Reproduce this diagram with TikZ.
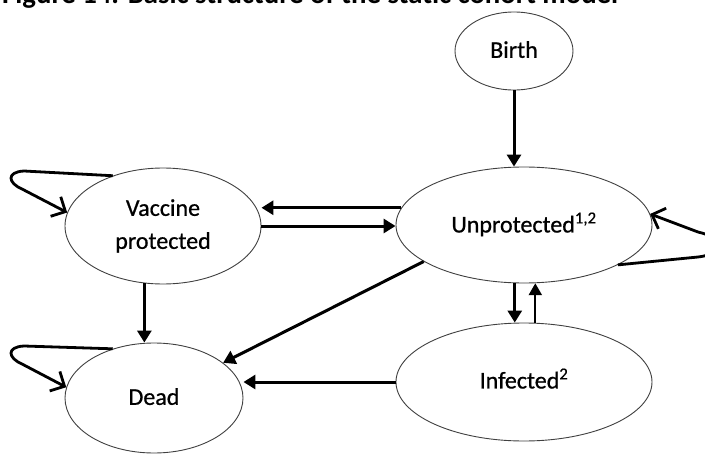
\documentclass[tikz,border=0pt]{standalone}
\usepackage{graphicx}
\usepackage{fontspec}
\setmainfont{Carlito}
\newfontfamily\heavyfont[FakeBold=0.7]{Carlito}
\usetikzlibrary{arrows.meta,shapes.geometric,calc}
\begin{document}
\begin{tikzpicture}[x=1pt,y=-1pt,
  state/.style={ellipse,draw=black!75,line width=0.9pt,fill=white,inner sep=0pt,align=center,font=\heavyfont\fontsize{24}{33}\selectfont},
  arr/.style={line width=3pt,-{Triangle[length=12pt,width=14pt]}},
  thinarr/.style={line width=2.3pt,-{Triangle[length=12pt,width=13pt]}},
  loopy/.style={line width=2.8pt,line join=round,-{Straight Barb[length=11pt,width=22pt,line width=2.8pt]}}]
\useasboundingbox (0,0) rectangle (705,455);
\clip (0,0) rectangle (705,455);
\node[anchor=base west,inner sep=0pt] (title) at (2,4) {\resizebox{616pt}{!}{\bfseries Figure 14. Basic structure of the static cohort model}};
\node[state,minimum width=118pt,minimum height=78pt] (birth) at (514,51) {\raisebox{3pt}{Birth}};
\node[state,minimum width=256pt,minimum height=116pt] (unp) at (524,225) {\raisebox{5pt}{Unprotected\textsuperscript{1,2}}};
\node[state,minimum width=196pt,minimum height=116pt] (vac) at (163,226) {Vaccine\\protected};
\node[state,minimum width=178pt,minimum height=110pt] (dead) at (154,398) {\raisebox{3pt}{Dead}};
\node[state,minimum width=256pt,minimum height=118pt] (inf) at (524,382) {\raisebox{7pt}{Infected\textsuperscript{2}}};
\draw[arr] (birth.south) -- (unp.north -| birth.south);
\draw[arr] (unp.172) -- (vac.east |- unp.172);
\draw[arr] (vac.east) -- (unp.west |- vac.east);
\draw[arr] (vac.252) -- (dead.north -| vac.252);
\draw[arr] (unp.200) -- (dead.27);
\draw[arr] (inf.west) -- (dead.east |- inf.west);
\draw[arr] (unp.261) -- (inf.north -| unp.261);
\draw[thinarr] (inf.north -| unp.281) -- (unp.281);
\draw[loopy] (vac.135) -- (24,171) .. controls (6,172) and (8,183) .. (22,189) -- (vac.172);
\draw[loopy] (dead.130) -- (24,346) .. controls (6,347) and (8,358) .. (22,364) -- (dead.173);
\draw[loopy] (unp.337) -- (698,257) .. controls (725,254) and (725,238) .. (698,232) -- (unp.5);
\end{tikzpicture}
\end{document}
